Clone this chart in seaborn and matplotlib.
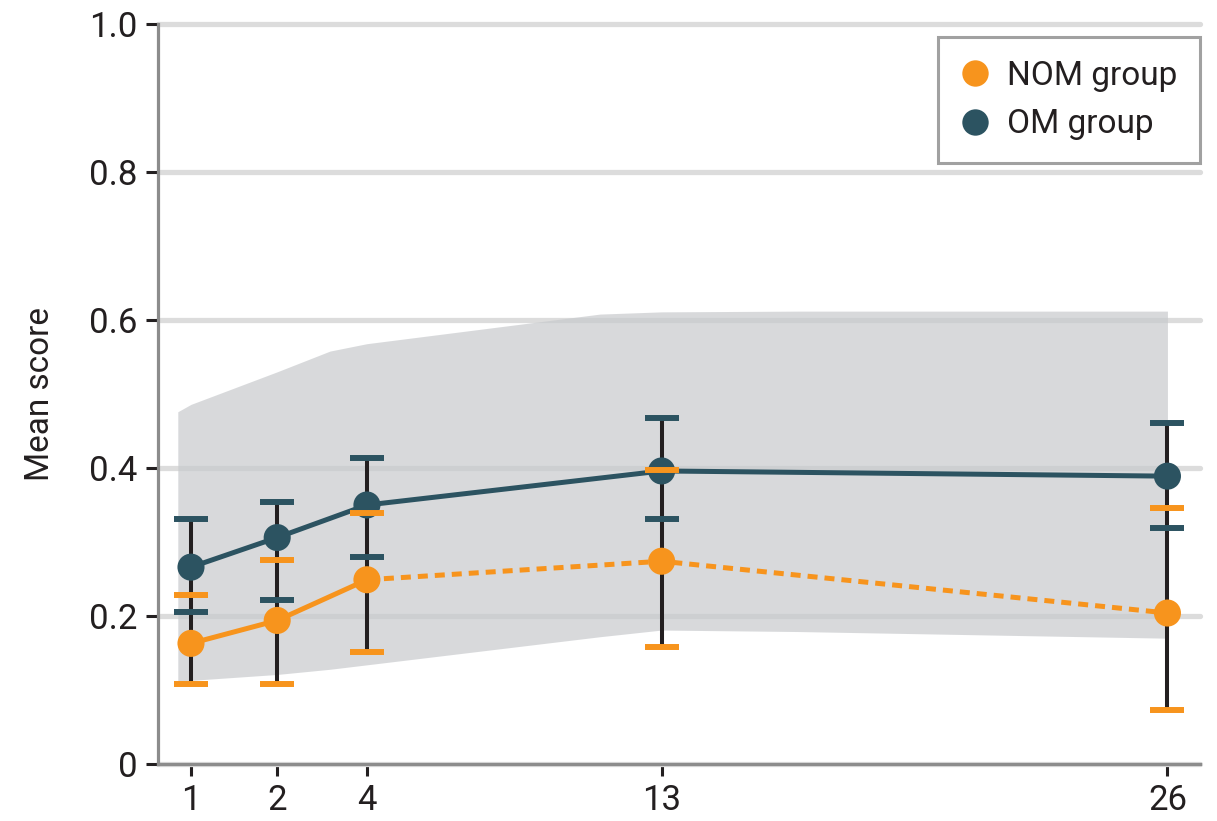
import matplotlib
matplotlib.use("Agg")
import matplotlib.pyplot as plt
import seaborn as sns
from matplotlib.lines import Line2D

weeks = ["1", "2", "4", "13", "26"]
slot = [0, 0.98, 2.0, 5.35, 11.1]   # horizontal slot of each week (axis is not linear)

om_mean = [0.266, 0.306, 0.350, 0.396, 0.389]
om_low = [0.205, 0.222, 0.280, 0.331, 0.319]
om_high = [0.331, 0.354, 0.414, 0.468, 0.461]

nom_mean = [0.163, 0.194, 0.249, 0.274, 0.204]
nom_low = [0.108, 0.108, 0.151, 0.158, 0.073]
nom_high = [0.229, 0.276, 0.339, 0.397, 0.346]

# grey reference band
band_slot = [-0.15, 0, 0.98, 1.58, 2.0, 4.65, 5.35, 6.9, 11.1]
band_top = [0.476, 0.486, 0.530, 0.558, 0.568, 0.608, 0.611, 0.612, 0.612]
band_bottom = [0.112, 0.113, 0.121, 0.128, 0.134, 0.172, 0.181, 0.179, 0.170]

yticks = [0, 0.2, 0.4, 0.6, 0.8, 1.0]
ylabels = ["0", "0.2", "0.4", "0.6", "0.8", "1.0"]

orange = "#f7941d"
teal = "#2c5361"
ink = "#231f20"

sns.set_style("white")
plt.rcParams["font.family"] = ["Roboto", "DejaVu Sans"]

fig = plt.figure(figsize=(12.17, 8.21), dpi=100)
ax = fig.add_axes([158 / 1217, 1 - 764 / 821, 1042 / 1217, 740 / 821])

ax.fill_between(band_slot, band_bottom, band_top, color="#c8cacd", alpha=0.7,
                lw=0, zorder=2)

# black error lines spanning both groups
lo = [min(a, b) for a, b in zip(om_low, nom_low)]
hi = [max(a, b) for a, b in zip(om_high, nom_high)]
ax.vlines(slot, lo, hi, color=ink, lw=2.9, zorder=3)

sns.lineplot(x=slot, y=om_mean, color=teal, lw=3.6, ax=ax, zorder=4)
sns.lineplot(x=slot[:3], y=nom_mean[:3], color=orange, lw=3.6, ax=ax, zorder=4)
sns.lineplot(x=slot[2:], y=nom_mean[2:], color=orange, lw=3.6, ax=ax, zorder=4,
             dashes=False, linestyle=(0, (2, 1.4)))

sns.scatterplot(x=slot, y=om_mean, color=teal, s=380, edgecolor="none", ax=ax, zorder=5)
sns.scatterplot(x=slot, y=nom_mean, color=orange, s=380, edgecolor="none", ax=ax, zorder=5)

for low, high, c in [(om_low, om_high, teal), (nom_low, nom_high, orange)]:
    ax.plot(slot, low, ls="none", marker="_", ms=24, mew=4.3, color=c, zorder=6)
    ax.plot(slot, high, ls="none", marker="_", ms=24, mew=4.3, color=c, zorder=6)

ax.set_xlim(-0.375, 11.47)
ax.set_ylim(0, 1.0)
ax.set_xticks(slot)
ax.set_xticklabels(weeks)
ax.set_yticks(yticks)
ax.set_yticklabels(ylabels)
ax.yaxis.grid(True, color="#dcdcdc", lw=3.8, zorder=1)
ax.set_axisbelow(True)
for gl in ax.get_ygridlines():
    gl.set_clip_on(False)

ax.tick_params(axis="both", direction="out", length=8.6, width=2.2, color=ink,
               labelsize=25, labelcolor=ink, pad=6)
ax.tick_params(axis="x", bottom=True)
ax.tick_params(axis="y", left=True)
for s in ["top", "right"]:
    ax.spines[s].set_visible(False)
for s in ["left", "bottom"]:
    ax.spines[s].set_color("#8c8c8c")
    ax.spines[s].set_linewidth(2.3)

ax.set_ylabel("Mean score", fontsize=24, color=ink, labelpad=24)

handles = [
    Line2D([], [], ls="none", marker="o", ms=19, color=orange, mec="none"),
    Line2D([], [], ls="none", marker="o", ms=19, color=teal, mec="none"),
]
leg = ax.legend(handles, ["NOM group", "OM group"], loc="upper right",
                bbox_to_anchor=(1.0, (764 - 37) / 740), fontsize=24,
                frameon=True, fancybox=False, borderpad=0.68,
                labelspacing=0.5, handletextpad=0.5, borderaxespad=0,
                handlelength=0.9)
leg.get_frame().set_edgecolor("#8a8a8a")
leg.get_frame().set_linewidth(2.2)
for t in leg.get_texts():
    t.set_color(ink)

fig.savefig("out.png", dpi=100)
